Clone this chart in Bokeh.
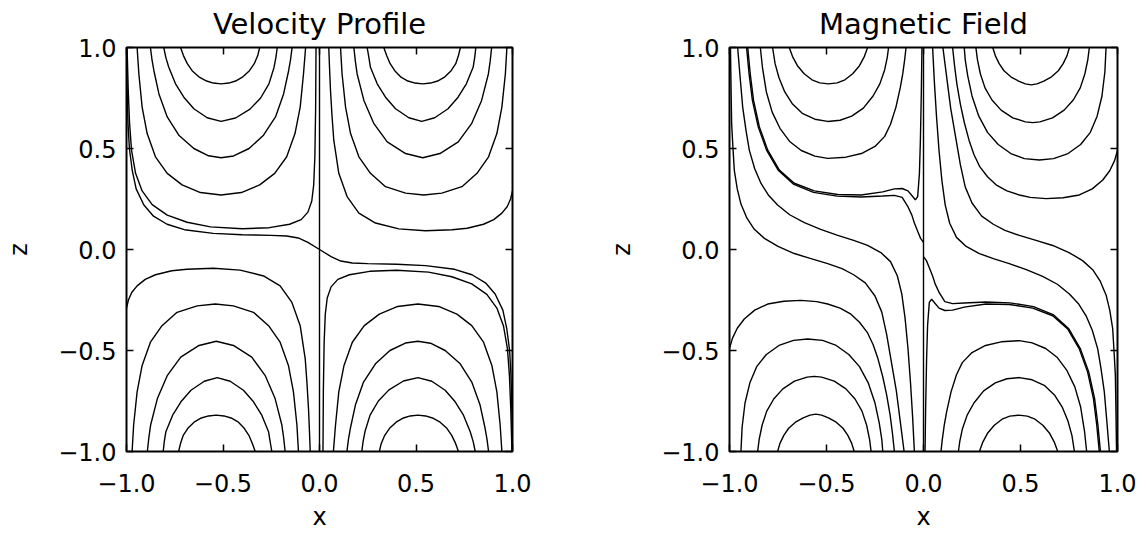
from bokeh.plotting import figure
from bokeh.layouts import row
from bokeh.models import Range1d, LinearAxis, FixedTicker
from bokeh.embed import file_html
from bokeh.resources import INLINE

# ---------------- axis ticks ----------------
tick_values = [-1.0, -0.5, 0.0, 0.5, 1.0]
tick_labels = ["\u22121.0", "\u22120.5", "0.0", "0.5", "1.0"]

# ---------------- Velocity Profile ----------------
center_x = [0.0, 0.0]
center_z = [-1.0, 1.0]

vel_tl_xs = [
    [-0.72, -0.705, -0.685, -0.66, -0.625, -0.585, -0.55, -0.51, -0.47, -0.435, -0.397, -0.363, -0.338, -0.32, -0.31],
    [-0.807, -0.796, -0.781, -0.746, -0.703, -0.651, -0.582, -0.51, -0.435, -0.36, -0.305, -0.262, -0.236, -0.226, -0.219],
    [-0.876, -0.868, -0.858, -0.832, -0.789, -0.729, -0.651, -0.575, -0.51, -0.445, -0.365, -0.29, -0.228, -0.186, -0.16, -0.15, -0.142],
    [-0.945, -0.936, -0.919, -0.893, -0.85, -0.789, -0.712, -0.617, -0.51, -0.405, -0.31, -0.232, -0.17, -0.127, -0.1, -0.083, -0.072],
    [-0.997, -0.991, -0.984, -0.974, -0.953, -0.919, -0.867, -0.789, -0.686, -0.565, -0.4, -0.26, -0.155, -0.095, -0.06, -0.04, -0.03, -0.024, -0.02, -0.018],
]
vel_tl_zs = [
    [1.0, 0.96, 0.92, 0.885, 0.855, 0.834, 0.824, 0.82, 0.824, 0.834, 0.855, 0.885, 0.92, 0.96, 1.0],
    [1.0, 0.95, 0.902, 0.82, 0.754, 0.697, 0.652, 0.634, 0.651, 0.695, 0.75, 0.82, 0.9, 0.95, 1.0],
    [1.0, 0.94, 0.885, 0.77, 0.656, 0.566, 0.5, 0.464, 0.454, 0.463, 0.5, 0.566, 0.656, 0.77, 0.885, 0.94, 1.0],
    [1.0, 0.869, 0.705, 0.574, 0.459, 0.377, 0.32, 0.282, 0.27, 0.282, 0.32, 0.377, 0.459, 0.574, 0.705, 0.869, 1.0],
    [1.0, 0.787, 0.623, 0.492, 0.377, 0.29, 0.222, 0.17, 0.135, 0.112, 0.103, 0.108, 0.125, 0.148, 0.185, 0.24, 0.32, 0.46, 0.7, 1.0],
]

vel_br_xs = [
    [0.72, 0.705, 0.685, 0.66, 0.625, 0.585, 0.55, 0.51, 0.47, 0.435, 0.397, 0.363, 0.338, 0.32, 0.31],
    [0.807, 0.796, 0.781, 0.746, 0.703, 0.651, 0.582, 0.51, 0.435, 0.36, 0.305, 0.262, 0.236, 0.226, 0.219],
    [0.876, 0.868, 0.858, 0.832, 0.789, 0.729, 0.651, 0.575, 0.51, 0.445, 0.365, 0.29, 0.228, 0.186, 0.16, 0.15, 0.142],
    [0.945, 0.936, 0.919, 0.893, 0.85, 0.789, 0.712, 0.617, 0.51, 0.405, 0.31, 0.232, 0.17, 0.127, 0.1, 0.083, 0.072],
    [0.997, 0.991, 0.984, 0.974, 0.953, 0.919, 0.867, 0.789, 0.686, 0.565, 0.4, 0.26, 0.155, 0.095, 0.06, 0.04, 0.03, 0.024, 0.02, 0.018],
]
vel_br_zs = [
    [-1.0, -0.96, -0.92, -0.885, -0.855, -0.834, -0.824, -0.82, -0.824, -0.834, -0.855, -0.885, -0.92, -0.96, -1.0],
    [-1.0, -0.95, -0.902, -0.82, -0.754, -0.697, -0.652, -0.634, -0.651, -0.695, -0.75, -0.82, -0.9, -0.95, -1.0],
    [-1.0, -0.94, -0.885, -0.77, -0.656, -0.566, -0.5, -0.464, -0.454, -0.463, -0.5, -0.566, -0.656, -0.77, -0.885, -0.94, -1.0],
    [-1.0, -0.869, -0.705, -0.574, -0.459, -0.377, -0.32, -0.282, -0.27, -0.282, -0.32, -0.377, -0.459, -0.574, -0.705, -0.869, -1.0],
    [-1.0, -0.787, -0.623, -0.492, -0.377, -0.29, -0.222, -0.17, -0.135, -0.112, -0.103, -0.108, -0.125, -0.148, -0.185, -0.24, -0.32, -0.46, -0.7, -1.0],
]

vel_tr_xs = [
    [0.333, 0.348, 0.366, 0.39, 0.42, 0.458, 0.495, 0.535, 0.575, 0.612, 0.65, 0.682, 0.706, 0.72, 0.73],
    [0.247, 0.256, 0.264, 0.299, 0.342, 0.394, 0.463, 0.53, 0.597, 0.666, 0.718, 0.761, 0.796, 0.804, 0.81],
    [0.178, 0.186, 0.195, 0.23, 0.282, 0.351, 0.446, 0.535, 0.624, 0.719, 0.788, 0.84, 0.875, 0.884, 0.892],
    [0.109, 0.117, 0.135, 0.161, 0.204, 0.264, 0.342, 0.446, 0.54, 0.634, 0.738, 0.816, 0.876, 0.919, 0.945, 0.963, 0.971],
    [0.048, 0.052, 0.057, 0.065, 0.074, 0.1, 0.143, 0.204, 0.29, 0.411, 0.549, 0.687, 0.765, 0.85, 0.903, 0.945, 0.973, 0.99, 1.0],
]
vel_tr_zs = [
    [1.0, 0.96, 0.92, 0.885, 0.855, 0.834, 0.824, 0.82, 0.824, 0.834, 0.855, 0.885, 0.92, 0.96, 1.0],
    [1.0, 0.95, 0.902, 0.82, 0.754, 0.697, 0.652, 0.634, 0.652, 0.697, 0.754, 0.82, 0.902, 0.95, 1.0],
    [1.0, 0.93, 0.869, 0.738, 0.623, 0.533, 0.475, 0.454, 0.475, 0.533, 0.623, 0.738, 0.869, 0.93, 1.0],
    [1.0, 0.869, 0.705, 0.574, 0.459, 0.377, 0.311, 0.279, 0.27, 0.279, 0.311, 0.377, 0.459, 0.574, 0.705, 0.869, 1.0],
    [1.0, 0.9, 0.787, 0.66, 0.541, 0.377, 0.262, 0.18, 0.131, 0.102, 0.093, 0.098, 0.105, 0.125, 0.148, 0.18, 0.213, 0.25, 0.29],
]

vel_bl_xs = [
    [-0.333, -0.348, -0.366, -0.39, -0.42, -0.458, -0.495, -0.535, -0.575, -0.612, -0.65, -0.682, -0.706, -0.72, -0.73],
    [-0.247, -0.256, -0.264, -0.299, -0.342, -0.394, -0.463, -0.53, -0.597, -0.666, -0.718, -0.761, -0.796, -0.804, -0.81],
    [-0.178, -0.186, -0.195, -0.23, -0.282, -0.351, -0.446, -0.535, -0.624, -0.719, -0.788, -0.84, -0.875, -0.884, -0.892],
    [-0.109, -0.117, -0.135, -0.161, -0.204, -0.264, -0.342, -0.446, -0.54, -0.634, -0.738, -0.816, -0.876, -0.919, -0.945, -0.963, -0.971],
    [-0.048, -0.052, -0.057, -0.065, -0.074, -0.1, -0.143, -0.204, -0.29, -0.411, -0.549, -0.687, -0.765, -0.85, -0.903, -0.945, -0.973, -0.99, -1.0],
]
vel_bl_zs = [
    [-1.0, -0.96, -0.92, -0.885, -0.855, -0.834, -0.824, -0.82, -0.824, -0.834, -0.855, -0.885, -0.92, -0.96, -1.0],
    [-1.0, -0.95, -0.902, -0.82, -0.754, -0.697, -0.652, -0.634, -0.652, -0.697, -0.754, -0.82, -0.902, -0.95, -1.0],
    [-1.0, -0.93, -0.869, -0.738, -0.623, -0.533, -0.475, -0.454, -0.475, -0.533, -0.623, -0.738, -0.869, -0.93, -1.0],
    [-1.0, -0.869, -0.705, -0.574, -0.459, -0.377, -0.311, -0.279, -0.27, -0.279, -0.311, -0.377, -0.459, -0.574, -0.705, -0.869, -1.0],
    [-1.0, -0.9, -0.787, -0.66, -0.541, -0.377, -0.262, -0.18, -0.131, -0.102, -0.093, -0.098, -0.105, -0.125, -0.148, -0.18, -0.213, -0.25, -0.29],
]

vel_sep_x = [-1.0, -0.997, -0.992, -0.985, -0.97, -0.95, -0.91, -0.86, -0.79, -0.7, -0.55, -0.4, -0.25, -0.17, -0.11, -0.06, 0.0,
             0.06, 0.11, 0.17, 0.25, 0.4, 0.55, 0.7, 0.79, 0.86, 0.91, 0.95, 0.97, 0.985, 0.992, 0.997, 1.0]
vel_sep_z = [1.0, 0.8, 0.62, 0.5, 0.39, 0.3, 0.22, 0.165, 0.125, 0.098, 0.08, 0.073, 0.07, 0.067, 0.057, 0.035, 0.0,
             -0.035, -0.057, -0.067, -0.07, -0.073, -0.08, -0.098, -0.125, -0.165, -0.22, -0.3, -0.39, -0.5, -0.62, -0.8, -1.0]

# ---------------- Magnetic Field ----------------
mag_tl_xs = [
    [-0.692, -0.675, -0.65, -0.615, -0.575, -0.535, -0.49, -0.445, -0.405, -0.365, -0.33, -0.305, -0.288],
    [-0.778, -0.765, -0.745, -0.715, -0.675, -0.625, -0.56, -0.494, -0.43, -0.37, -0.31, -0.26, -0.225, -0.2, -0.187, -0.18],
    [-0.841, -0.83, -0.81, -0.78, -0.74, -0.69, -0.63, -0.56, -0.494, -0.4, -0.32, -0.25, -0.2, -0.17, -0.142, -0.12, -0.107, -0.097, -0.09],
    [-0.906, -0.893, -0.876, -0.846, -0.803, -0.743, -0.666, -0.563, -0.442, -0.322, -0.21, -0.15, -0.11, -0.08, -0.058, -0.042, -0.03, -0.021, -0.016, -0.011, -0.008],
    [-0.912, -0.899, -0.882, -0.852, -0.809, -0.749, -0.671, -0.567, -0.445, -0.322, -0.21, -0.15, -0.11, -0.082, -0.06, -0.047, -0.03, -0.015, 0.0],
]
mag_tl_zs = [
    [1.0, 0.955, 0.91, 0.87, 0.84, 0.825, 0.82, 0.825, 0.84, 0.87, 0.91, 0.955, 1.0],
    [1.0, 0.92, 0.85, 0.78, 0.72, 0.674, 0.645, 0.634, 0.64, 0.66, 0.7, 0.76, 0.82, 0.89, 0.95, 1.0],
    [1.0, 0.9, 0.78, 0.68, 0.6, 0.535, 0.49, 0.462, 0.451, 0.457, 0.475, 0.51, 0.56, 0.62, 0.705, 0.8, 0.869, 0.94, 1.0],
    [1.0, 0.869, 0.738, 0.607, 0.492, 0.393, 0.328, 0.29, 0.272, 0.27, 0.285, 0.3, 0.302, 0.29, 0.265, 0.246, 0.262, 0.377, 0.541, 0.787, 1.0],
    [1.0, 0.869, 0.738, 0.607, 0.492, 0.393, 0.324, 0.283, 0.264, 0.26, 0.265, 0.268, 0.258, 0.215, 0.17, 0.131, 0.09, 0.055, 0.035],
]

mag_br_xs = [
    [0.692, 0.675, 0.65, 0.615, 0.575, 0.535, 0.49, 0.445, 0.405, 0.365, 0.33, 0.305, 0.288],
    [0.778, 0.765, 0.745, 0.715, 0.675, 0.625, 0.56, 0.494, 0.43, 0.37, 0.31, 0.26, 0.225, 0.2, 0.187, 0.18],
    [0.841, 0.83, 0.81, 0.78, 0.74, 0.69, 0.63, 0.56, 0.494, 0.4, 0.32, 0.25, 0.2, 0.17, 0.142, 0.12, 0.107, 0.097, 0.09],
    [0.906, 0.893, 0.876, 0.846, 0.803, 0.743, 0.666, 0.563, 0.442, 0.322, 0.21, 0.15, 0.11, 0.08, 0.058, 0.042, 0.03, 0.021, 0.016, 0.011, 0.008],
    [0.912, 0.899, 0.882, 0.852, 0.809, 0.749, 0.671, 0.567, 0.445, 0.322, 0.21, 0.15, 0.11, 0.082, 0.06, 0.047, 0.03, 0.015, 0.0],
]
mag_br_zs = [
    [-1.0, -0.955, -0.91, -0.87, -0.84, -0.825, -0.82, -0.825, -0.84, -0.87, -0.91, -0.955, -1.0],
    [-1.0, -0.92, -0.85, -0.78, -0.72, -0.674, -0.645, -0.634, -0.64, -0.66, -0.7, -0.76, -0.82, -0.89, -0.95, -1.0],
    [-1.0, -0.9, -0.78, -0.68, -0.6, -0.535, -0.49, -0.462, -0.451, -0.457, -0.475, -0.51, -0.56, -0.62, -0.705, -0.8, -0.869, -0.94, -1.0],
    [-1.0, -0.869, -0.738, -0.607, -0.492, -0.393, -0.328, -0.29, -0.272, -0.27, -0.285, -0.3, -0.302, -0.29, -0.265, -0.246, -0.262, -0.377, -0.541, -0.787, -1.0],
    [-1.0, -0.869, -0.738, -0.607, -0.492, -0.393, -0.324, -0.283, -0.264, -0.26, -0.265, -0.268, -0.258, -0.215, -0.17, -0.131, -0.09, -0.055, -0.035],
]

mag_bl_xs = [
    [-1.0, -0.985, -0.96, -0.924, -0.87, -0.803, -0.72, -0.632, -0.55, -0.494, -0.43, -0.374, -0.33, -0.29, -0.26, -0.235, -0.21, -0.19, -0.172, -0.16, -0.15],
    [-0.941, -0.935, -0.92, -0.895, -0.86, -0.81, -0.745, -0.67, -0.597, -0.52, -0.45, -0.385, -0.33, -0.285, -0.25, -0.228, -0.215, -0.21],
    [-0.855, -0.847, -0.832, -0.808, -0.772, -0.725, -0.665, -0.6, -0.563, -0.525, -0.46, -0.4, -0.353, -0.317, -0.293, -0.278, -0.27],
    [-0.752, -0.74, -0.72, -0.695, -0.66, -0.62, -0.585, -0.555, -0.525, -0.49, -0.45, -0.415, -0.39, -0.37, -0.357],
]
mag_bl_zs = [
    [-0.49, -0.44, -0.39, -0.344, -0.3, -0.27, -0.256, -0.252, -0.258, -0.27, -0.29, -0.32, -0.36, -0.41, -0.47, -0.54, -0.63, -0.72, -0.82, -0.91, -1.0],
    [-1.0, -0.88, -0.76, -0.66, -0.58, -0.52, -0.475, -0.45, -0.443, -0.45, -0.475, -0.52, -0.58, -0.66, -0.76, -0.86, -0.94, -1.0],
    [-1.0, -0.94, -0.87, -0.8, -0.74, -0.69, -0.652, -0.632, -0.628, -0.632, -0.652, -0.69, -0.74, -0.8, -0.87, -0.94, -1.0],
    [-1.0, -0.96, -0.92, -0.885, -0.855, -0.834, -0.82, -0.815, -0.82, -0.834, -0.855, -0.885, -0.92, -0.96, -1.0],
]

mag_tr_xs = [
    [1.0, 0.985, 0.96, 0.924, 0.87, 0.803, 0.72, 0.632, 0.55, 0.494, 0.43, 0.374, 0.33, 0.29, 0.26, 0.235, 0.21, 0.19, 0.172, 0.16, 0.15],
    [0.941, 0.935, 0.92, 0.895, 0.86, 0.81, 0.745, 0.67, 0.597, 0.52, 0.45, 0.385, 0.33, 0.285, 0.25, 0.228, 0.215, 0.21],
    [0.855, 0.847, 0.832, 0.808, 0.772, 0.725, 0.665, 0.6, 0.563, 0.525, 0.46, 0.4, 0.353, 0.317, 0.293, 0.278, 0.27],
    [0.752, 0.74, 0.72, 0.695, 0.66, 0.62, 0.585, 0.555, 0.525, 0.49, 0.45, 0.415, 0.39, 0.37, 0.357],
]
mag_tr_zs = [
    [0.49, 0.44, 0.39, 0.344, 0.3, 0.27, 0.256, 0.252, 0.258, 0.27, 0.29, 0.32, 0.36, 0.41, 0.47, 0.54, 0.63, 0.72, 0.82, 0.91, 1.0],
    [1.0, 0.88, 0.76, 0.66, 0.58, 0.52, 0.475, 0.45, 0.443, 0.45, 0.475, 0.52, 0.58, 0.66, 0.76, 0.86, 0.94, 1.0],
    [1.0, 0.94, 0.87, 0.8, 0.74, 0.69, 0.652, 0.632, 0.628, 0.632, 0.652, 0.69, 0.74, 0.8, 0.87, 0.94, 1.0],
    [1.0, 0.96, 0.92, 0.885, 0.855, 0.834, 0.82, 0.815, 0.82, 0.834, 0.855, 0.885, 0.92, 0.96, 1.0],
]

mag_left_xs = [
    [-0.958, -0.945, -0.932, -0.915, -0.898, -0.87, -0.838, -0.8, -0.752, -0.69, -0.614, -0.53, -0.442, -0.36, -0.288, -0.22, -0.17, -0.135, -0.112, -0.095, -0.08, -0.067, -0.056, -0.047],
    [-0.995, -0.992, -0.989, -0.982, -0.975, -0.96, -0.941, -0.91, -0.872, -0.82, -0.75, -0.666, -0.58, -0.494, -0.42, -0.36, -0.3, -0.25, -0.215, -0.19, -0.165, -0.14, -0.12, -0.1],
]
mag_left_zs = [
    [1.0, 0.85, 0.705, 0.59, 0.492, 0.4, 0.328, 0.27, 0.22, 0.172, 0.133, 0.1, 0.07, 0.045, 0.02, -0.015, -0.06, -0.13, -0.22, -0.34, -0.49, -0.66, -0.83, -1.0],
    [1.0, 0.8, 0.623, 0.5, 0.39, 0.3, 0.225, 0.155, 0.1, 0.055, 0.015, -0.02, -0.045, -0.07, -0.095, -0.125, -0.165, -0.23, -0.31, -0.42, -0.56, -0.7, -0.85, -1.0],
]
mag_right_xs = [
    [0.958, 0.945, 0.932, 0.915, 0.898, 0.87, 0.838, 0.8, 0.752, 0.69, 0.614, 0.53, 0.442, 0.36, 0.288, 0.22, 0.17, 0.135, 0.112, 0.095, 0.08, 0.067, 0.056, 0.047],
    [0.995, 0.992, 0.989, 0.982, 0.975, 0.96, 0.941, 0.91, 0.872, 0.82, 0.75, 0.666, 0.58, 0.494, 0.42, 0.36, 0.3, 0.25, 0.215, 0.19, 0.165, 0.14, 0.12, 0.1],
]
mag_right_zs = [
    [-1.0, -0.85, -0.705, -0.59, -0.492, -0.4, -0.328, -0.27, -0.22, -0.172, -0.133, -0.1, -0.07, -0.045, -0.02, 0.015, 0.06, 0.13, 0.22, 0.34, 0.49, 0.66, 0.83, 1.0],
    [-1.0, -0.8, -0.623, -0.5, -0.39, -0.3, -0.225, -0.155, -0.1, -0.055, -0.015, 0.02, 0.045, 0.07, 0.095, 0.125, 0.165, 0.23, 0.31, 0.42, 0.56, 0.7, 0.85, 1.0],
]

FONT = "DejaVu Sans"


def style_axis(ax, labels, label_text, standoff, label_standoff):
    ax.ticker = FixedTicker(ticks=tick_values)
    ax.major_label_overrides = {v: (t if labels else "") for v, t in zip(tick_values, tick_labels)}
    ax.major_label_text_font = FONT
    ax.major_label_text_font_size = "24px" if labels else "0px"
    ax.major_label_text_color = "black"
    ax.major_label_standoff = standoff
    ax.major_tick_in = 7
    ax.major_tick_out = 0
    ax.major_tick_line_color = "black"
    ax.major_tick_line_width = 1.5
    ax.minor_tick_line_color = None
    ax.axis_line_color = None
    if label_text:
        ax.axis_label = label_text
        ax.axis_label_text_font = FONT
        ax.axis_label_text_font_size = "24px"
        ax.axis_label_text_font_style = "normal"
        ax.axis_label_text_color = "black"
        ax.axis_label_standoff = label_standoff


def make_panel(title, groups, border_left, border_right):
    p = figure(width=573, height=533, x_range=Range1d(-1, 1), y_range=Range1d(-1, 1),
               output_backend="svg", toolbar_location=None, tools="",
               min_border_left=border_left, min_border_right=border_right,
               min_border_top=47, min_border_bottom=80)
    p.title.text = title
    p.title.align = "center"
    p.title.vertical_align = "top"
    p.title.text_font = FONT
    p.title.text_font_size = "29px"
    p.title.text_font_style = "normal"
    p.title.text_color = "black"
    p.title.standoff = 10
    p.grid.visible = False
    p.outline_line_color = "black"
    p.outline_line_width = 2
    p.background_fill_color = "white"
    p.border_fill_color = "white"

    style_axis(p.xaxis[0], True, "x", 22, 8)
    style_axis(p.yaxis[0], True, "z", 10, 22)
    top_ax = LinearAxis()
    right_ax = LinearAxis()
    style_axis(top_ax, False, "", 0, 0)
    style_axis(right_ax, False, "", 0, 0)
    p.add_layout(top_ax, "above")
    p.add_layout(right_ax, "right")

    for xs, zs in groups:
        p.multi_line(xs=xs, ys=zs, line_color="black", line_width=1.4)
    p.line(center_x, center_z, line_color="black", line_width=1.4)
    return p


p1 = make_panel("Velocity Profile", [
    (vel_tl_xs, vel_tl_zs), (vel_tr_xs, vel_tr_zs),
    (vel_bl_xs, vel_bl_zs), (vel_br_xs, vel_br_zs),
    ([vel_sep_x], [vel_sep_z]),
], 126, 61)

p2 = make_panel("Magnetic Field", [
    (mag_tl_xs, mag_tl_zs), (mag_tr_xs, mag_tr_zs),
    (mag_bl_xs, mag_bl_zs), (mag_br_xs, mag_br_zs),
    (mag_left_xs, mag_left_zs), (mag_right_xs, mag_right_zs),
], 156, 29)

layout = row(p1, p2)
open("out.html", "w").write(file_html(layout, INLINE))
